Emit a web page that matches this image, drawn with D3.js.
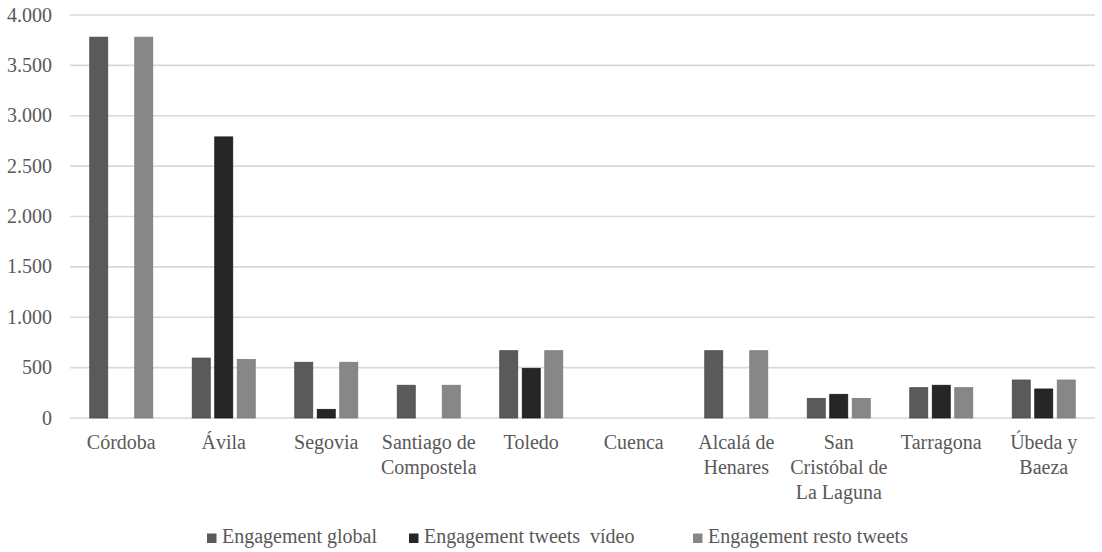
<!DOCTYPE html>
<html>
<head>
<meta charset="utf-8">
<script src="https://cdn.jsdelivr.net/npm/d3@7"></script>
<style>
  body { margin: 0; background: #fff; }
  svg text { font-family: "Liberation Serif", "Times New Roman", Tinos, serif; font-size: 20px; fill: #595959; }
</style>
</head>
<body>
<div id="chart"></div>
<script>
// data
var categories = ["Córdoba", "Ávila", "Segovia", "Santiago de\nCompostela", "Toledo", "Cuenca",
                  "Alcalá de\nHenares", "San\nCristóbal de\nLa Laguna", "Tarragona", "Úbeda y\nBaeza"];
var seriesNames = ["Engagement global", "Engagement tweets  vídeo", "Engagement resto tweets"];
var engagementGlobal = [3780, 595, 553, 325, 668, 0, 668, 195, 301, 377];
var engagementVideo  = [0, 2790, 86, 0, 493, 0, 0, 235, 325, 288];
var engagementResto  = [3780, 580, 553, 325, 668, 0, 668, 195, 301, 377];
var yTicks = [0, 500, 1000, 1500, 2000, 2500, 3000, 3500, 4000];

var colors = ["#5a5a5a", "#262626", "#878787"];
var strokes = ["#4a4a4a", "#1a1a1a", "#7a7a7a"];

var width = 1102, height = 552;
var margin = {left: 70, right: 7, top: 15, bottom: 134};

var svg = d3.select('#chart').append('svg')
    .attr('width', width)
    .attr('height', height);

// each band holds a group of 3 bars, 63px wide
var groupW = 63;
var step = (width - margin.right - margin.left) / categories.length;
var pIn = 1 - groupW / step;

var x = d3.scaleBand()
    .domain(d3.range(categories.length))
    .range([margin.left, width - margin.right])
    .paddingInner(pIn)
    .paddingOuter(pIn / 2);

var x1 = d3.scaleBand()
    .domain(d3.range(seriesNames.length))
    .range([0, x.bandwidth()])
    .paddingInner(0.2);

var y = d3.scaleLinear()
    .domain([0, 4000])
    .range([height - margin.bottom, margin.top]);

var locale = d3.formatLocale({decimal: ",", thousands: ".", grouping: [3], currency: ["", "€"]});
var fmt = locale.format(",");

// gridlines
svg.selectAll('.grid')
    .data(yTicks)
    .enter()
    .append('line')
    .attr('x1', margin.left)
    .attr('x2', width - margin.right)
    .attr('y1', function(d){ return y(d); })
    .attr('y2', function(d){ return y(d); })
    .attr('stroke', '#d9d9d9')
    .attr('stroke-width', 1.6);

// y tick labels
svg.selectAll('.ylab')
    .data(yTicks)
    .enter()
    .append('text')
    .attr('x', 52)
    .attr('y', function(d){ return y(d); })
    .attr('dy', '0.33em')
    .attr('text-anchor', 'end')
    .text(function(d){ return fmt(d); });

// bars
var allSeries = [engagementGlobal, engagementVideo, engagementResto];
var barData = [];
for (var i = 0; i < categories.length; i++) {
    for (var s = 0; s < allSeries.length; s++) {
        if (allSeries[s][i] > 0) barData.push({cat: i, s: s, v: allSeries[s][i]});
    }
}

svg.selectAll('.bar')
    .data(barData)
    .enter()
    .append('rect')
    .attr('x', function(d){ return x(d.cat) + x1(d.s); })
    .attr('y', function(d){ return y(d.v); })
    .attr('width', x1.bandwidth())
    .attr('height', function(d){ return y(0) - y(d.v); })
    .attr('fill', function(d){ return colors[d.s]; })
    .attr('stroke', function(d){ return strokes[d.s]; })
    .attr('stroke-width', 0.8);

// category labels
var catText = svg.selectAll('.xlab')
    .data(categories)
    .enter()
    .append('text')
    .attr('x', function(d, i){ return x(i) + x.bandwidth() / 2; })
    .attr('y', y(0) + 31)
    .attr('text-anchor', 'middle');

catText.each(function(d){
    var lines = d.split('\n');
    var t = d3.select(this);
    lines.forEach(function(l, k){
        t.append('tspan')
            .attr('x', t.attr('x'))
            .attr('dy', k === 0 ? 0 : 25)
            .text(l);
    });
});

// legend
var legendX = [207, 409, 693];
var legend = svg.selectAll('.legend')
    .data(seriesNames)
    .enter()
    .append('g')
    .attr('transform', function(d, i){ return 'translate(' + legendX[i] + ',543)'; });

legend.append('rect')
    .attr('x', 0)
    .attr('y', -9.5)
    .attr('width', 9.5)
    .attr('height', 9.5)
    .attr('fill', function(d, i){ return colors[i]; });

legend.append('text')
    .attr('x', 15)
    .attr('y', 0)
    .style('white-space', 'pre')
    .text(function(d){ return d; });
</script>
</body>
</html>
